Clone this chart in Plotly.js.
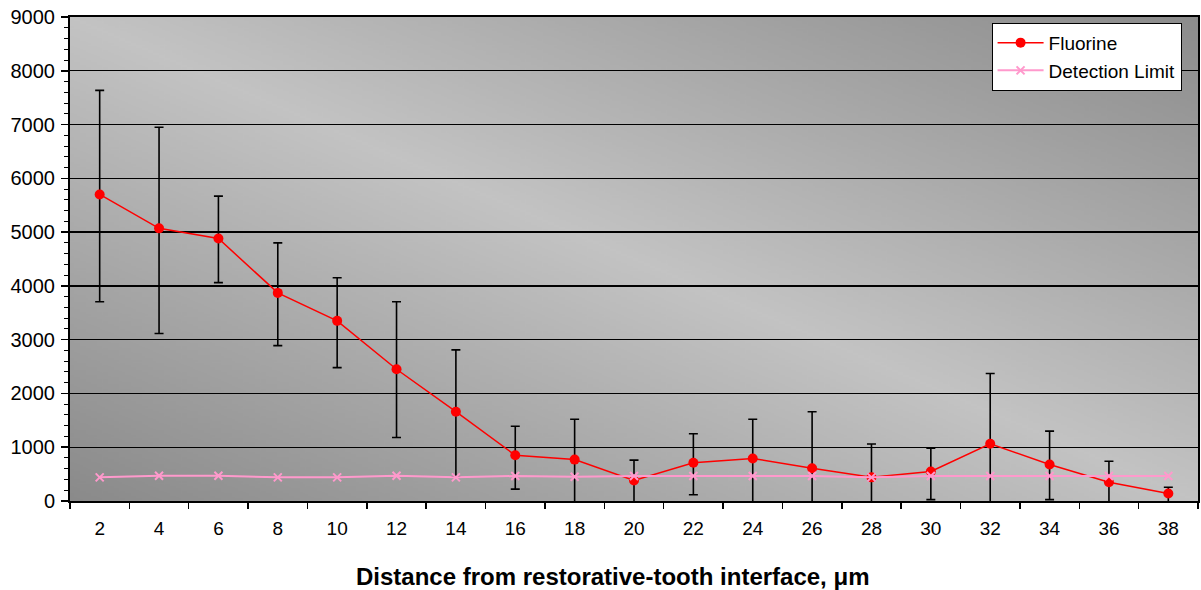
<!DOCTYPE html>
<html>
<head>
<meta charset="utf-8">
<script src="https://cdn.plot.ly/plotly-3.0.1.min.js"></script>
<style>
  html, body { margin: 0; padding: 0; background: #fff; }
  #chart { width: 1201px; height: 590px; }
</style>
</head>
<body>
<div id="chart"></div>
<script>
// ---- data ----
const distances = ['2','4','6','8','10','12','14','16','18','20','22','24','26','28','30','32','34','36','38'];
const fluorine = [5700,5070,4880,3870,3350,2450,1660,850,770,380,710,790,610,440,550,1065,680,350,140];
const fluorineUpper = [7635,6950,5670,4800,4150,3705,2810,1390,1520,760,1250,1520,1660,1060,980,2370,1300,740,255];
const fluorineLower = [3705,3115,4060,2890,2480,1180,450,220,-50,-50,115,-30,-30,-30,25,-30,25,-50,-50];
const detectionLimit = [440,470,470,440,440,470,440,465,450,465,465,465,465,440,465,465,465,465,465];
const xTitle = 'Distance from restorative-tooth interface, μm';

// ---- gradient background (normalized diagonal) ----
function gradientURL() {
  const c = document.createElement('canvas');
  c.width = 400; c.height = 400;
  const ctx = c.getContext('2d');
  const g = ctx.createLinearGradient(0, 400, 400, 0);
  g.addColorStop(0, '#8a8a8a');
  g.addColorStop(0.5, '#c3c3c3');
  g.addColorStop(1, '#8c8c8c');
  ctx.fillStyle = g;
  ctx.fillRect(0, 0, 400, 400);
  return c.toDataURL('image/png');
}

const errPlus = fluorineUpper.map((u, i) => u - fluorine[i]);
const errMinus = fluorineLower.map((l, i) => fluorine[i] - l);

const traces = [
  {
    x: distances, y: fluorine, name: 'Fluorine', type: 'scatter', mode: 'lines+markers',
    line: { color: '#ff0000', width: 1.5 },
    marker: { color: '#ff0000', size: 10, symbol: 'circle' },
    error_y: { type: 'data', symmetric: false, array: errPlus, arrayminus: errMinus,
               color: '#000000', thickness: 1.6, width: 4.5, visible: true },
    cliponaxis: false
  },
  {
    x: distances, y: detectionLimit, name: 'Detection Limit', type: 'scatter', mode: 'lines+markers',
    line: { color: '#ff99cc', width: 2 },
    marker: { color: '#ff99cc', size: 8, symbol: 'x-thin', line: { color: '#ff99cc', width: 2 } }
  }
];

const layout = {
  width: 1201, height: 590,
  margin: { l: 70, r: 3, t: 17, b: 89 },
  paper_bgcolor: '#ffffff',
  plot_bgcolor: 'rgba(0,0,0,0)',
  font: { family: 'Liberation Sans, Arial, sans-serif', color: '#000000', size: 19 },
  showlegend: true,
  legend: {
    x: 0.817, y: 0.988, xanchor: 'left', yanchor: 'top',
    bgcolor: '#ffffff', bordercolor: '#000000', borderwidth: 1,
    font: { size: 19, color: '#000000' },
    itemwidth: 46,
    tracegroupgap: 0
  },
  images: [{
    source: gradientURL(), xref: 'paper', yref: 'paper',
    x: 0, y: 1, sizex: 1, sizey: 1, xanchor: 'left', yanchor: 'top',
    sizing: 'stretch', layer: 'below'
  }],
  annotations: [{
    text: '<b>' + xTitle + '</b>', xref: 'paper', yref: 'paper',
    x: 0.481, y: -0.155, xanchor: 'center', yanchor: 'middle',
    showarrow: false, font: { size: 24, color: '#000000' }
  }],
  xaxis: {
    type: 'category', tickson: 'boundaries', range: [-0.5, 18.5], autorange: false,
    showgrid: false, zeroline: false,
    showline: true, linecolor: '#000000', linewidth: 2, mirror: true,
    ticks: 'outside', ticklen: 6, tickcolor: '#000000', tickwidth: 1.5,
    ticklabelstandoff: 9,
    tickfont: { size: 19 }
  },
  yaxis: {
    range: [0, 9000], autorange: false, dtick: 1000, tick0: 0,
    showgrid: true, gridcolor: '#000000', gridwidth: 1.3,
    zeroline: false,
    showline: true, linecolor: '#000000', linewidth: 2, mirror: true,
    ticks: 'outside', ticklen: 7, tickcolor: '#000000', tickwidth: 1.5,
    ticklabelstandoff: 2,
    tickfont: { size: 20 },
    minor: { dtick: 200, ticks: 'outside', ticklen: 4, tickcolor: '#000000', tickwidth: 1, showgrid: false }
  }
};

Plotly.newPlot('chart', traces, layout, { staticPlot: true, displayModeBar: false });
</script>
</body>
</html>
